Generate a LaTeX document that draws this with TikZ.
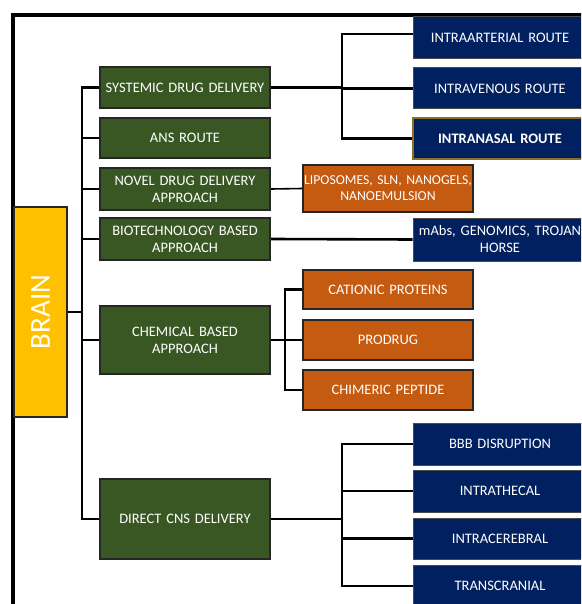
\documentclass[tikz,border=0pt]{standalone}
\usepackage{fontspec}
\setmainfont{Carlito}
\usepackage{tikz}
\usetikzlibrary{calc}
\usepackage{xcolor}
\definecolor{brainyellow}{RGB}{255,192,0}
\definecolor{routegreen}{RGB}{56,87,35}
\definecolor{routeblue}{RGB}{0,32,96}
\definecolor{routeorange}{RGB}{197,90,17}
\definecolor{nasalgold}{RGB}{140,110,40}

\tikzset{
    lbl/.style={font=\fontsize{14.5}{17}\selectfont,text=white,align=center},
    greenbox/.style={lbl,draw=black!85,line width=2pt,fill=routegreen,
        minimum width=170pt,text width=164pt,inner xsep=3pt},
    bluebox/.style={lbl,draw=black!70,line width=1pt,fill=routeblue,
        minimum width=174pt,text width=170pt,inner xsep=2pt},
    orangebox/.style={lbl,draw=black!85,line width=2pt,fill=routeorange,
        minimum width=170pt,text width=164pt,inner xsep=3pt},
    link/.style={draw=black,line width=2.6pt},
}

\begin{document}
\begin{tikzpicture}[x=1pt,y=-1pt]
    \useasboundingbox (0,0) rectangle (581,604);
    \clip (0,0) rectangle (581,604);

    % Frame
    \draw[line width=3.8pt] (13,620) -- (13,15) -- (600,15);

    % Root
    \node[draw=black!85,line width=1.5pt,fill=brainyellow,minimum width=53pt,minimum height=210pt,inner sep=0pt]
        (brain) at (40.5,312) {};
    \node[rotate=90,text=white,font=\fontsize{29}{29}\selectfont] (braintxt) at (brain.center) {BRAIN};

    % First level
    \node[greenbox,minimum height=41pt] (sys)    at (185,87.5) {SYSTEMIC DRUG DELIVERY};
    \node[greenbox,minimum height=40pt] (ans)    at (185,138)  {ANS ROUTE};
    \node[greenbox,minimum height=42pt] (novel)  at (185,189)  {NOVEL DRUG DELIVERY\\APPROACH};
    \node[greenbox,minimum height=42pt] (bio)    at (185,239)  {BIOTECHNOLOGY BASED\\APPROACH};
    \node[greenbox,minimum height=68pt] (chem)   at (185,340)  {CHEMICAL BASED\\APPROACH};
    \node[greenbox,minimum height=80pt] (direct) at (185,519)  {DIRECT CNS DELIVERY};

    % Second level
    \node[bluebox,minimum height=42pt] (art)   at (500,38)    {INTRAARTERIAL ROUTE};
    \node[bluebox,minimum height=41pt] (ven)   at (500,88.5)  {INTRAVENOUS ROUTE};
    \node[bluebox,minimum height=41pt,draw=nasalgold,line width=2pt,font=\fontsize{14.5}{17}\selectfont\bfseries]
        (nasal) at (500,138.5) {INTRANASAL ROUTE};
    \node[orangebox,minimum height=47pt,text width=182pt,inner xsep=-6pt,font=\fontsize{13.7}{16}\selectfont]
        (lipo) at (388,188.5) {LIPOSOMES, SLN, NANOGELS,\\NANOEMULSION};
    \node[bluebox,minimum height=43pt] (mabs)  at (500,239.5) {mAbs, GENOMICS, TROJAN\\HORSE};
    \node[orangebox,minimum height=39pt] (cat)  at (388,289.5) {CATIONIC PROTEINS};
    \node[orangebox,minimum height=40pt] (pro)  at (388,340)   {PRODRUG};
    \node[orangebox,minimum height=40pt] (chim) at (388,390)   {CHIMERIC PEPTIDE};
    \node[bluebox,minimum height=42pt] (bbb)   at (500,444)   {BBB DISRUPTION};
    \node[bluebox,minimum height=42pt] (theca) at (500,491)   {INTRATHECAL};
    \node[bluebox,minimum height=41pt] (cereb) at (500,538.5) {INTRACEREBRAL};
    \node[bluebox,minimum height=42pt] (trans) at (500,586)   {TRANSCRANIAL};

    % Forks
    \coordinate (trunk)   at (82,0);
    \coordinate (sysbus)  at (342,0);
    \coordinate (chembus) at (285,0);
    \coordinate (cnsbus)  at (342,0);

    % Connectors
    \foreach \kid in {sys,ans,novel,bio,chem,direct}
        \draw[link] (brain.east) -- (brain.east -| trunk) |- (\kid.west);
    \draw[link] (sys.east) -- (sys.east -| sysbus) |- ([yshift=4pt]art.west);
    \foreach \kid in {ven,nasal}
        \draw[link] (sys.east) -- (sys.east -| sysbus) |- (\kid.west);
    \draw[link,line width=1.6pt] (novel.east) -- (lipo.west);
    \draw[link] (bio.east) -- (mabs.west);
    \foreach \kid in {cat,pro,chim}
        \draw[link] (chem.east) -- (chem.east -| chembus) |- (\kid.west);
    \foreach \kid in {bbb,theca,cereb,trans}
        \draw[link] (direct.east) -- (direct.east -| cnsbus) |- (\kid.west);
\end{tikzpicture}
\end{document}
